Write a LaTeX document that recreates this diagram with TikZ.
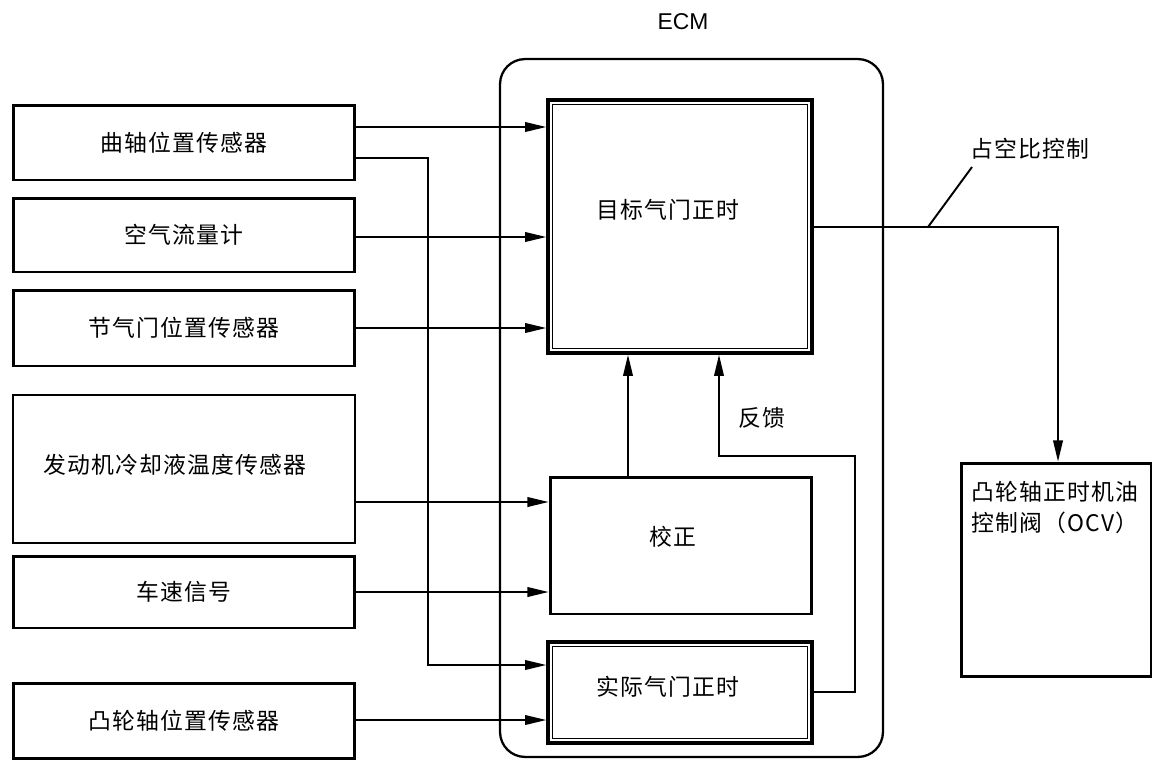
\documentclass[tikz,border=0pt]{standalone}
\usepackage{fontspec}
\setmainfont{Liberation Sans}
\newfontfamily\zhfont[LetterSpace=5]{Noto Sans CJK SC}
\newcommand{\zhtext}{\zhfont\fontsize{13}{15}\selectfont}
\usetikzlibrary{arrows.meta, positioning, calc}

\begin{document}
\begin{tikzpicture}[x=0.02cm, y=-0.02cm,
  box/.style={draw, line width=1.7pt, inner sep=0pt},
  sensor/.style={box, minimum width=6.84cm, font=\zhtext},
  unit/.style={box, line width=2.1pt},
  innerline/.style={line width=0.6pt},
  wire/.style={line width=0.9pt},
  conn/.style={wire, -{Triangle[length=12pt,width=5.5pt]}},
  lbl/.style={font=\zhtext, inner sep=0pt}]
  % canvas 1155 x 761 px, 1px = 0.02cm
  \useasboundingbox (0,0) rectangle (1155,761);
  % ECM housing
  \node[draw, line width=1.3pt, rounded corners=0.5cm, minimum width=7.66cm,
        minimum height=13.96cm] (ecm) at (691.5,408) {};
  \node[font=\fontsize{13}{15}\selectfont] (ecmlbl) at (683,22) {ECM};
  % sensors (left column)
  \node[sensor, minimum height=1.5cm]  (crank)    at (184,142.5) {曲轴位置传感器};
  \node[sensor, minimum height=1.48cm] (airflow)  at (184,235)   {空气流量计};
  \node[sensor, minimum height=1.52cm] (throttle) at (184,328)   {节气门位置传感器};
  \node[sensor, minimum height=2.96cm, line width=1.1pt] (coolant) at (184,469) {};
  \node[lbl] (coolantlbl) at (175,465) {发动机冷却液温度传感器};
  \node[sensor, minimum height=1.44cm] (speed)    at (184,592)   {车速信号};
  \node[sensor, minimum height=1.5cm]  (cam)      at (184,720.5) {凸轮轴位置传感器};
  % ECM blocks
  \node[unit, minimum width=5.28cm, minimum height=5.06cm] (target) at (680,226.5) {};
  \draw[innerline] ($(target.north west)+(6,6)$) rectangle ($(target.south east)+(-6,-6)$);
  \node[lbl] (targetlbl) at (668,210) {目标气门正时};
  \node[box, minimum width=5.24cm, minimum height=2.74cm] (corr) at (681,545.5) {};
  \node[lbl] (corrlbl) at (673,537) {校正};
  \node[unit, minimum width=5.28cm, minimum height=2.02cm] (actual) at (680,692.5) {};
  \draw[innerline] ($(actual.north west)+(6,6)$) rectangle ($(actual.south east)+(-6,-6)$);
  \node[lbl] (actuallbl) at (668,687) {实际气门正时};
  % oil control valve
  \node[box, minimum width=3.8cm, minimum height=4.28cm] (ocv) at (1056,570) {};
  \node[lbl, anchor=north west, align=left, font=\zhfont\fontsize{13}{17.6}\selectfont]
        (ocvlbl) at (971,481) {凸轮轴正时机油\\控制阀（OCV）};
  % routing points
  \coordinate (y1) at (0,127);
  \coordinate (y2) at (0,158);
  \coordinate (y3) at (0,237);
  \coordinate (y4) at (0,328);
  \coordinate (y5) at (0,502);
  \coordinate (y6) at (0,592);
  \coordinate (y7) at (0,665);
  \coordinate (y8) at (0,720);
  \coordinate (bus) at (428,0);
  \coordinate (up) at (628,0);
  \coordinate (fbx) at (719,456);
  \coordinate (fbt) at (855,456);
  \coordinate (fbr) at (855,692);
  \coordinate (duty) at (1058,227);
  \coordinate (tick) at (928,227);
  \coordinate (tickend) at (972,167);
  % sensor inputs
  \draw[conn] (crank.east |- y1) -- (target.west |- y1);
  \draw[conn] (crank.east |- y2) -- (bus |- y2) -- (bus |- y7) -- (actual.west |- y7);
  \draw[conn] (airflow.east |- y3) -- (target.west |- y3);
  \draw[conn] (throttle.east |- y4) -- (target.west |- y4);
  \draw[conn] (coolant.east |- y5) -- (corr.west |- y5);
  \draw[conn] (speed.east |- y6) -- (corr.west |- y6);
  \draw[conn] (cam.east |- y8) -- (actual.west |- y8);
  % correction and feedback
  \draw[conn] (corr.north -| up) -- (target.south -| up);
  \draw[conn] (actual.east |- fbr) -- (fbr) -- (fbt) -- (fbx) -- (target.south -| fbx);
  \node[lbl] (fblbl) at (762,418) {反馈};
  % duty output
  \draw[conn] (target.east |- duty) -- (duty) -- (ocv.north -| duty);
  \draw[line width=1.1pt] (tick) -- (tickend);
  \node[lbl] (dutylbl) at (1030,149) {占空比控制};
\end{tikzpicture}
\end{document}
